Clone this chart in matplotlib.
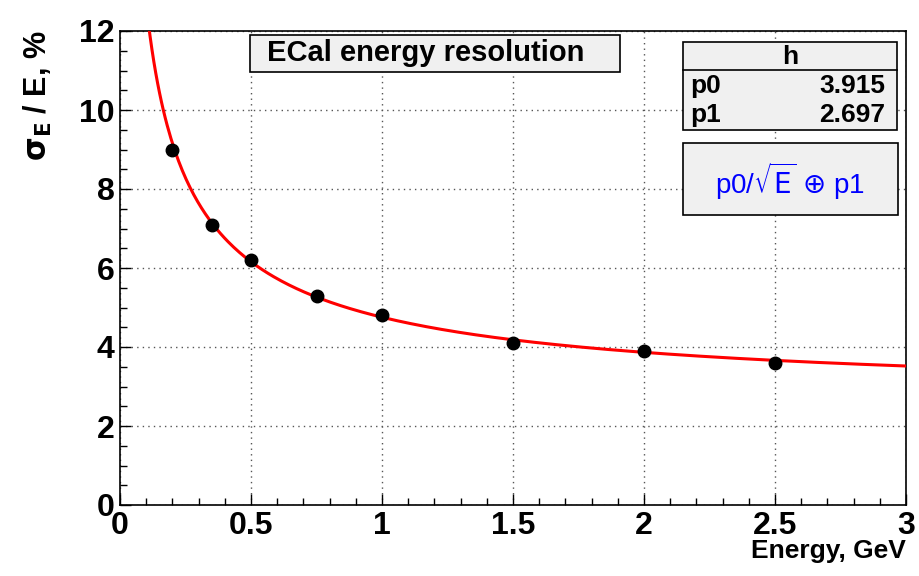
import numpy as np
import matplotlib.pyplot as plt
from matplotlib.patches import Rectangle
from matplotlib.lines import Line2D

# measured resolution points
energy = [0.2, 0.35, 0.5, 0.75, 1.0, 1.5, 2.0, 2.5]
resolution = [9.0, 7.1, 6.2, 5.3, 4.8, 4.1, 3.9, 3.6]

# fit parameters (stochastic term, constant term)
par_names = ['p0', 'p1']
par_values = [3.915, 2.697]

plt.rcParams['font.family'] = ['Liberation Sans', 'DejaVu Sans']

W, H = 919, 576
fig = plt.figure(figsize=(W / 100, H / 100), dpi=100)
fig.patch.set_facecolor('white')

def fx(px):
    return px / W

def fy(py):
    return 1 - py / H

ax = fig.add_axes([fx(120), fy(505), fx(906) - fx(120), fy(31) - fy(505)])

# fit curve p0/sqrt(E) (+) p1
p0, p1 = par_values
e_fit = np.linspace(0.1, 3.0, 400)
r_fit = np.sqrt(p0 ** 2 / e_fit + p1 ** 2)
ax.plot(e_fit, r_fit, color='red', lw=2.2, zorder=3)
ax.plot(energy, resolution, 'o', color='black', ms=9, zorder=4)

ax.set_xlim(0, 3)
ax.set_ylim(0, 12)
ax.set_xticks(np.arange(0, 3.01, 0.5))
ax.set_xticklabels(['0', '0.5', '1', '1.5', '2', '2.5', '3'])
ax.set_xticks(np.arange(0, 3.01, 0.1), minor=True)
ax.set_yticks(np.arange(0, 12.1, 2))
ax.set_yticks(np.arange(0, 12.1, 0.5), minor=True)
ax.grid(True, which='major', color='#555555', linestyle=(0, (1, 3)), lw=1)
ax.tick_params(which='both', direction='in', labelsize=23, width=1,
               top=False, right=False)
ax.tick_params(which='major', length=8, pad=4)
ax.tick_params(which='minor', length=5)
for lab in ax.get_xticklabels() + ax.get_yticklabels():
    lab.set_fontweight('bold')
for s in ax.spines.values():
    s.set_linewidth(1.2)

fig.text(fx(906), fy(551), 'Energy, GeV', ha='right', va='center',
         fontsize=19, fontweight='bold')
fig.text(fx(38), fy(30), r'$\mathbf{\sigma_E}$ / E, %', ha='center', va='top',
         rotation=90, fontsize=22, fontweight='bold')

# title box
box_kw = dict(transform=fig.transFigure, facecolor='#f0f0f0',
              edgecolor='black', lw=1.2, zorder=5)
fig.patches.append(Rectangle((fx(250), fy(72)), fx(620) - fx(250),
                             fy(35) - fy(72), **box_kw))
fig.text(fx(426), fy(53), 'ECal energy resolution', ha='center', va='center',
         fontsize=21, fontweight='bold', zorder=6)

# stats box
fig.patches.append(Rectangle((fx(683), fy(130)), fx(897) - fx(683),
                             fy(42) - fy(130), **box_kw))
fig.lines.append(Line2D([fx(683), fx(897)], [fy(70), fy(70)],
                        transform=fig.transFigure, color='black', lw=1.2,
                        zorder=6))
fig.text(fx(790), fy(57), 'h', ha='center', va='center', fontsize=19,
         fontweight='bold', zorder=6)
for i, (name, val) in enumerate(zip(par_names, par_values)):
    y = fy(86 + 29 * i)
    fig.text(fx(690), y, name, ha='left', va='center', fontsize=19,
             fontweight='bold', zorder=6)
    fig.text(fx(885), y, '%.3f' % val, ha='right', va='center', fontsize=19,
             fontweight='bold', zorder=6)

# formula box
fig.patches.append(Rectangle((fx(683), fy(215)), fx(898) - fx(683),
                             fy(143) - fy(215), **box_kw))
fig.text(fx(790), fy(181), r'p0/$\sqrt{\mathrm{E}}$ $\oplus$ p1', ha='center',
         va='center', fontsize=20, color='blue', zorder=6)

fig.savefig('out.png', dpi=100)
